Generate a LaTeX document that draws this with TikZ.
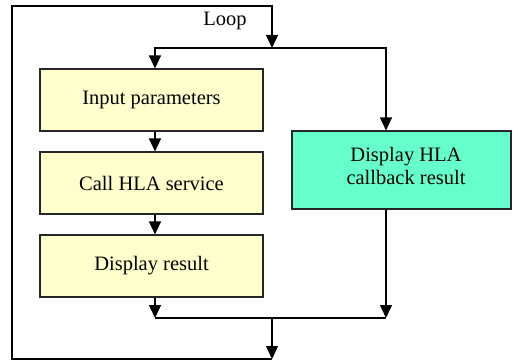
\documentclass[tikz,border=0pt]{standalone}
\usepackage{fontspec}
\setmainfont{Liberation Serif}
\usetikzlibrary{arrows.meta}
\definecolor{boxyellow}{RGB}{255,255,204}
\definecolor{boxteal}{RGB}{102,255,204}
\tikzset{
  boxtext/.style={font=\fontsize{20.5}{23}\selectfont, align=center, inner sep=0pt},
  flowbox/.style={boxtext, draw=black!85, line width=1.1pt, rectangle},
  ybox/.style={flowbox, fill=boxyellow, minimum width=223pt, minimum height=62pt},
  tbox/.style={flowbox, fill=boxteal, minimum width=219pt, minimum height=78pt},
  conn/.style={line width=1.3pt, black},
  arr/.style={conn, -{Triangle[width=12pt,length=13pt]}},
}
\begin{document}
\begin{tikzpicture}[x=1pt,y=-1pt]
\useasboundingbox (0,0) rectangle (513,361);
\node[ybox] (b1) at (151.5,100) {Input parameters};
\node[ybox] (b2) at (151.5,183) {Call HLA service};
\node[ybox] (b3) at (151.5,266) {Display result};
\node[tbox] (rb) at (401.5,170) {};
\node[boxtext] (rbtext) at (406,165.5) {Display HLA\\callback result};
\node[boxtext] (loop) at (225,21) {Loop};
\coordinate (split) at (272,48);
\coordinate (splitL) at (155,48);
\coordinate (splitR) at (386,48);
\coordinate (mergeL) at (155,318);
\coordinate (mergeR) at (386,318);
\coordinate (merge) at (272,318);
\coordinate (loopB) at (272,359);
\coordinate (loopBL) at (12,359);
\coordinate (loopTL) at (12,6);
\coordinate (loopTR) at (272,6);
% split
\draw[arr] (splitR) -- (splitL) -- (splitL |- b1.north);
\draw[arr] (splitL) -- (splitR) -- (splitR |- rb.north);
\draw[arr] (b1.south -| splitL) -- (splitL |- b2.north);
\draw[arr] (b2.south -| splitL) -- (splitL |- b3.north);
% merge
\draw[arr] (b3.south -| mergeL) -- (mergeL);
\draw[arr] (rb.south -| mergeR) -- (mergeR);
\draw[conn] (mergeL) -- (mergeR);
\draw[arr] (merge) -- (loopB);
\draw[arr] (loopB) -- (loopBL) -- (loopTL) -- (loopTR) -- (split);
\end{tikzpicture}
\end{document}
